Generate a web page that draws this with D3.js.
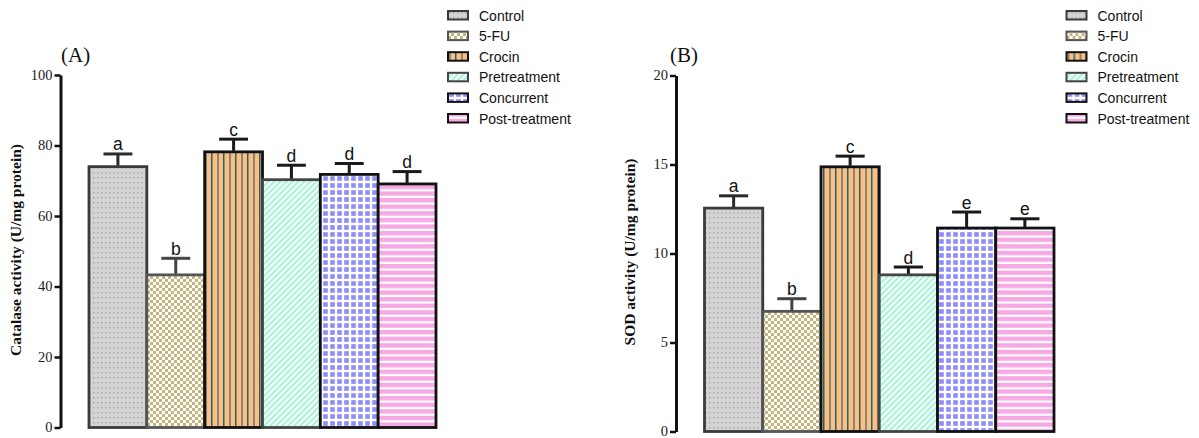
<!DOCTYPE html>
<html>
<head>
<meta charset="utf-8">
<script src="https://cdn.jsdelivr.net/npm/d3@7"></script>
<style>
  html, body { margin: 0; padding: 0; background: #fff; }
  svg { display: block; }
</style>
</head>
<body>
<svg id="chart" width="1199" height="438"></svg>
<script>
// Groups and measured enzyme activities (mean ± SD) with significance letters
const groups = ["Control", "5-FU", "Crocin", "Pretreatment", "Concurrent", "Post-treatment"];

const catalaseMean = [74.0, 43.3, 78.2, 70.3, 71.8, 69.1];
const catalaseSD = [3.6, 4.7, 3.6, 4.1, 3.1, 3.5];
const catalaseLetters = ["a", "b", "c", "d", "d", "d"];
const catalaseTicks = [0, 20, 40, 60, 80, 100];

const sodMean = [12.55, 6.75, 14.87, 8.8, 11.43, 11.43];
const sodSD = [0.69, 0.71, 0.6, 0.44, 0.9, 0.52];
const sodLetters = ["a", "b", "c", "d", "e", "e"];
const sodTicks = [0, 5, 10, 15, 20];

const svg = d3.select("#chart");
const defs = svg.append("defs");

// ---- fill patterns, one per group ----
function pattern(id, w, h) {
  return defs.append("pattern").attr("id", id)
    .attr("patternUnits", "userSpaceOnUse").attr("width", w).attr("height", h);
}
// Control: grey with fine dots
let p = pattern("pat0", 4, 5);
p.append("rect").attr("width", 4).attr("height", 5).attr("fill", "#d4d4d4");
p.append("rect").attr("x", 1).attr("y", 2).attr("width", 1.5).attr("height", 1.5).attr("fill", "#a8a8a8");
// 5-FU: khaki checkerboard
p = pattern("pat1", 6, 6);
p.append("rect").attr("width", 6).attr("height", 6).attr("fill", "#ffffff");
p.append("rect").attr("width", 3).attr("height", 3).attr("fill", "#c5b67d");
p.append("rect").attr("x", 3).attr("y", 3).attr("width", 3).attr("height", 3).attr("fill", "#c5b67d");
// Crocin: orange with alternating vertical lines
p = pattern("pat2", 12, 10);
p.append("rect").attr("width", 12).attr("height", 10).attr("fill", "#fdbf7f");
p.append("rect").attr("x", 1).attr("width", 2).attr("height", 10).attr("fill", "#8a877a");
p.append("rect").attr("x", 7).attr("width", 1.5).attr("height", 10).attr("fill", "#1d6479");
// Pretreatment: mint diagonal stripes
p = pattern("pat3", 6, 6);
p.append("rect").attr("width", 6).attr("height", 6).attr("fill", "#ffffff");
p.append("path").attr("d", "M-1,7 L7,-1 M-4,4 L4,-4 M2,10 L10,2")
  .attr("stroke", "#b1f4dc").attr("stroke-width", 2.6);
// Concurrent: blue squares on white
p = pattern("pat4", 7, 7);
p.append("rect").attr("width", 7).attr("height", 7).attr("fill", "#ffffff");
p.append("rect").attr("x", 1.2).attr("y", 1.2).attr("width", 4.6).attr("height", 4.6).attr("fill", "#8d8dfb");
// Post-treatment: pink horizontal stripes
p = pattern("pat5", 10, 6.6);
p.append("rect").attr("width", 10).attr("height", 6.6).attr("fill", "#ffffff");
p.append("rect").attr("y", 0).attr("width", 10).attr("height", 4.4).attr("fill", "#f6a9e4");

const borderColors = ["#3a3a3a", "#555555", "#111111", "#444444", "#111111", "#111111"];
const errColors = ["#2a2a2a", "#444444", "#1a1a1a", "#1a1a1a", "#1a1a1a", "#1a1a1a"];

function panel(cfg) {
  const g = svg.append("g");
  const x = d3.scaleBand().domain(groups).range(cfg.xRange).padding(0);
  const y = d3.scaleLinear().domain([0, cfg.max]).range(cfg.yRange);

  // bars
  g.selectAll("rect.bar").data(groups).join("rect")
    .attr("class", "bar")
    .attr("x", d => x(d))
    .attr("y", (d, i) => y(cfg.mean[i]))
    .attr("width", x.bandwidth())
    .attr("height", (d, i) => y(0) - y(cfg.mean[i]))
    .attr("fill", (d, i) => `url(#pat${i})`)
    .attr("stroke", (d, i) => borderColors[i])
    .attr("stroke-width", 2.8);

  // error bars (upper whisker with cap)
  const cap = x.bandwidth() * 0.25;
  groups.forEach((d, i) => {
    const cx = x(d) + x.bandwidth() / 2;
    const top = y(cfg.mean[i] + cfg.sd[i]);
    g.append("line").attr("x1", cx).attr("x2", cx)
      .attr("y1", y(cfg.mean[i]) - 1).attr("y2", top)
      .attr("stroke", errColors[i]).attr("stroke-width", 3);
    g.append("line").attr("x1", cx - cap).attr("x2", cx + cap)
      .attr("y1", top).attr("y2", top)
      .attr("stroke", errColors[i]).attr("stroke-width", 3);
    g.append("text").attr("x", cx).attr("y", top - 3.5)
      .attr("text-anchor", "middle")
      .attr("font-family", "Liberation Sans, Arial, sans-serif")
      .attr("font-size", 17.5).attr("fill", "#111")
      .text(cfg.letters[i]);
  });

  // y axis
  const axis = g.append("g")
    .attr("transform", `translate(${cfg.axisX},0)`)
    .call(d3.axisLeft(y).tickValues(cfg.ticks).tickSize(6).tickSizeOuter(0).tickPadding(2));
  axis.select(".domain").attr("stroke", "#111").attr("stroke-width", 3);
  axis.selectAll(".tick line").attr("stroke", "#111").attr("stroke-width", 2.5);
  axis.selectAll(".tick text")
    .attr("dy", "0.3em")
    .attr("font-family", "Liberation Serif, Times New Roman, serif")
    .attr("font-size", 14.5).attr("fill", "#222");

  // axis title
  g.append("text")
    .attr("transform", `translate(${cfg.titleX},${cfg.titleY}) rotate(-90)`)
    .attr("text-anchor", "middle")
    .attr("font-family", "Liberation Serif, Times New Roman, serif")
    .attr("font-weight", "bold").attr("font-size", 15.5).attr("fill", "#111")
    .text(cfg.title);

  // panel tag
  g.append("text").attr("x", cfg.tagX).attr("y", 62)
    .attr("font-family", "Liberation Serif, Times New Roman, serif")
    .attr("font-size", 21).attr("fill", "#111")
    .text(cfg.tag);

  // legend
  const lg = g.append("g").attr("transform", `translate(${cfg.legendX},0)`);
  groups.forEach((d, i) => {
    const yy = 11 + i * 20.6;
    lg.append("rect").attr("x", 0).attr("y", yy).attr("width", 20).attr("height", 8.5)
      .attr("fill", `url(#pat${i})`).attr("stroke", borderColors[i]).attr("stroke-width", 2);
    lg.append("text").attr("x", 31).attr("y", yy + 9.5)
      .attr("font-family", "Liberation Sans, Arial, sans-serif")
      .attr("font-size", 14).attr("fill", "#111")
      .text(d);
  });
}

panel({
  mean: catalaseMean, sd: catalaseSD, letters: catalaseLetters, ticks: catalaseTicks,
  max: 100, xRange: [89, 436], yRange: [427.5, 75], axisX: 60.5,
  title: "Catalase activity (U/mg protein)", titleX: 21, titleY: 250,
  tag: "(A)", tagX: 61, legendX: 448
});

panel({
  mean: sodMean, sd: sodSD, letters: sodLetters, ticks: sodTicks,
  max: 20, xRange: [704.5, 1054], yRange: [431.5, 75.5], axisX: 676,
  title: "SOD activity (U/mg protein)", titleX: 635, titleY: 252,
  tag: "(B)", tagX: 670, legendX: 1066.5
});
</script>
</body>
</html>
